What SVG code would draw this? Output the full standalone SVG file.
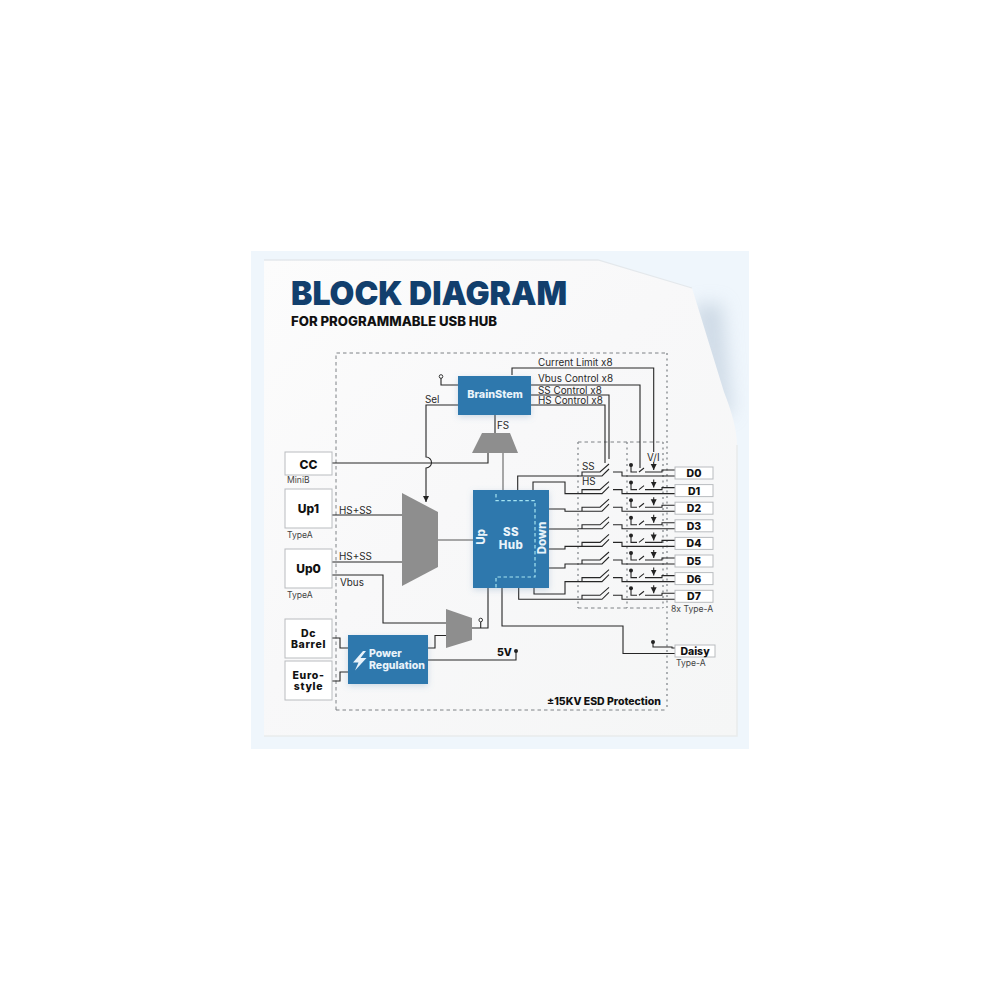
<svg xmlns="http://www.w3.org/2000/svg" width="1000" height="1000" viewBox="0 0 1000 1000">
<style>
text{font-family:Inter,"Liberation Sans",sans-serif;fill:#222}
.box{fill:#fff;stroke:#b9bcbf;stroke-width:1}
.bl{font-weight:800;font-size:12px;text-anchor:middle;fill:#111}
.b2{font-weight:800;font-size:10.500px;letter-spacing:.7px;text-anchor:middle;fill:#111}
.dl{font-weight:800;font-size:10.5px;text-anchor:middle;fill:#111}
.lb{font-size:9.9px;fill:#2a2a2a}
.sm{font-size:8.6px;fill:#444}
.wt{font-weight:800;fill:#e9f3fa;text-anchor:middle;font-size:10.800px}
.blue{fill:#2f78ad;filter:url(#s)}
.mux{fill:#8e8e8e}
.ln{fill:none;stroke:#262626;stroke-width:1.1}
.gl{fill:none;stroke:#8a8a8a;stroke-width:1.5}
.ds{fill:none;stroke:#6f7478;stroke-width:.9;stroke-dasharray:3.5 3}
.dv{fill:none;stroke:#8c9094;stroke-width:1.4;stroke-dasharray:2 3.500}
.hd{fill:none;stroke:#a5e4f2;stroke-width:1.2;stroke-dasharray:3.5 2.5}
.dot{fill:#222}
.open{fill:#fff;stroke:#333;stroke-width:1}
</style>
<defs>
<filter id="s" x="-20%" y="-20%" width="140%" height="150%"><feDropShadow dx="0" dy="2" stdDeviation="3" flood-color="#6a93b5" flood-opacity=".3"/></filter>
<filter id="b" x="-40%" y="-40%" width="180%" height="180%"><feGaussianBlur stdDeviation="9"/></filter>
<linearGradient id="pg" x1="0" y1="0" x2="1" y2="1"><stop offset="0" stop-color="#fcfcfc"/><stop offset=".45" stop-color="#f8f8f9"/><stop offset="1" stop-color="#f5f6f6"/></linearGradient>
<clipPath id="pc"><rect x="251" y="251" width="498" height="498"/></clipPath>
<marker id="a" markerWidth="8" markerHeight="8" refX="6" refY="3" orient="auto" markerUnits="userSpaceOnUse"><path d="M0 0L6 3L0 6Z" fill="#222"/></marker>
<g id="ch">
<path class="ln" d="M582 0V-4H600L609 -12M578 0H602L609 -7M613 -4H622V0H675M631 -11V-4H637M639 -4L644 -8M645 -4H662V-6H675"/>
<circle class="dot" cx="631" cy="-11" r="2"/>
<path class="ln" d="M653.700 -14V-6" marker-end="url(#a)"/>
</g>
</defs>

<rect x="251" y="251" width="498" height="498" fill="#eff6fc"/>
<g clip-path="url(#pc)"><path d="M692 305L722 303L732 415L715 415Z" fill="#b3c3d4" opacity=".55" filter="url(#b)"/></g>
<path d="M264 260H598L692 288Q708 340 724 392Q737 425 737 445V736H264Z" fill="url(#pg)"/>
<path d="M264 260H598L692 288" stroke="#e4e8ec" stroke-width="1.300" fill="none"/>
<path d="M737 445V736H264" stroke="#e9ebec" stroke-width="1.500" fill="none"/>

<text x="291" y="305" font-size="33" font-weight="900" textLength="276" lengthAdjust="spacingAndGlyphs" style="fill:#123f6d">BLOCK DIAGRAM</text>
<text x="291" y="326" font-size="13" font-weight="800" textLength="206" lengthAdjust="spacingAndGlyphs" style="fill:#111">FOR PROGRAMMABLE USB HUB</text>

<g id="boundaries">
<path class="ds" d="M336 710V353H667M578 442H663M578 608H663M336 710H667"/>
<path class="dv" d="M667 353V710M663 442V608M627 442V608M578 442V608"/>
</g>

<g id="connectors">
<path class="ln" d="M458 405H426V457A5.500 5.500 0 0 1 426 468V502" marker-end="url(#a)"/>
<path class="ln" d="M332 463H488V453"/>
<path class="gl" d="M503 453V490M438 540H473"/>
<path class="ln" d="M495 415V433"/>
<path class="ln" d="M441 378V385H458"/>
<path class="ln" d="M332 515H402M332 562H402M332 575H383V623H446"/>
<path class="ln" d="M428 648H435V635.500H446"/>
<path class="ln" d="M472 628H488V588M480.700 622V628"/>
<path class="ln" d="M428 660H516V652"/>
<path class="ln" d="M332 638H340V648H348M332 681H340V672H348"/>
<path class="ln" d="M502 588V626H623V653.500H675M653 642V647H672V648H675"/>
<path class="ln" d="M512 375V368H653.700V452M531 385H640V468M531 395H609V459M531 405H605V463"/>
<path class="ln" d="M517.700 490V476H578M533 490V482H565V493.600H578M549 509H565V511.200H578M549 529H578M549 549H565V546.400H578M549 568H565V564H578M534 588V594H565V581.600H578M518.700 588V599.300H578"/>
<use href="#ch" transform="translate(0,476)"/>
<use href="#ch" transform="translate(0,493.600)"/>
<use href="#ch" transform="translate(0,511.200)"/>
<use href="#ch" transform="translate(0,528.800)"/>
<use href="#ch" transform="translate(0,546.400)"/>
<use href="#ch" transform="translate(0,564)"/>
<use href="#ch" transform="translate(0,581.600)"/>
<use href="#ch" transform="translate(0,599.300)"/>
<circle class="open" cx="441" cy="376.500" r="1.800"/>
<circle class="open" cx="480.700" cy="620" r="1.800"/>
<circle class="dot" cx="516" cy="651" r="2"/>
<circle class="dot" cx="653" cy="642" r="2"/>
</g>

<g id="cc"><rect class="box" x="285" y="452" width="47" height="23"/><text class="bl" x="308.500" y="469">CC</text><text class="sm" x="287" y="483">MiniB</text></g>
<g id="up1"><rect class="box" x="285" y="489" width="47" height="39"/><text class="bl" x="308.500" y="513">Up1</text><text class="sm" x="287" y="538">TypeA</text></g>
<g id="up0"><rect class="box" x="285" y="549" width="47" height="39"/><text class="bl" x="308.500" y="573">Up0</text><text class="sm" x="287" y="598">TypeA</text></g>
<g id="dc-barrel"><rect class="box" x="285" y="619" width="47" height="39"/><text class="b2" y="636.500"><tspan x="308.500">Dc</tspan><tspan x="308.500" dy="11.500">Barrel</tspan></text></g>
<g id="eurostyle"><rect class="box" x="285" y="661" width="47" height="39"/><text class="b2" y="678.500"><tspan x="308.500">Euro-</tspan><tspan x="308.500" dy="11.500">style</tspan></text></g>

<g id="brainstem"><rect class="blue" x="458" y="376" width="73" height="39"/><text class="wt" x="495" y="398">BrainStem</text></g>
<g id="fs-mux"><path class="mux" d="M482 433H510L518 453H472Z"/></g>
<g id="hs-ss-mux"><path class="mux" d="M402 493L438 512V567L402 586Z"/></g>
<g id="vbus-mux"><path class="mux" d="M446 609L472 618V640L446 648Z"/></g>
<g id="ss-hub"><rect class="blue" x="473" y="490" width="76" height="98"/>
<path class="hd" d="M496 494V500.700H535V577H496V588"/>
<text class="wt" y="536" style="font-size:11.500px;letter-spacing:.4px"><tspan x="511">SS</tspan><tspan x="511" dy="13">Hub</tspan></text>
<text class="wt" transform="translate(485,537) rotate(-90)" style="font-size:11.500px">Up</text>
<text class="wt" transform="translate(546,538) rotate(-90)" style="font-size:11.500px">Down</text></g>
<g id="power-regulation"><rect class="blue" x="348" y="635" width="80" height="49"/>
<path d="M363 651L353 662.500H358.500L355 670.500L366.500 658H360.500L366 651Z" fill="#e9f3fa"/>
<text class="wt" y="657" style="text-anchor:start;font-size:10.500px"><tspan x="369">Power</tspan><tspan x="369" dy="12">Regulation</tspan></text></g>

<g id="d0"><rect class="box" x="675" y="467" width="38" height="12"/><text class="dl" x="694" y="477">D0</text></g>
<g id="d1"><rect class="box" x="675" y="484.600" width="38" height="12"/><text class="dl" x="694" y="494.600">D1</text></g>
<g id="d2"><rect class="box" x="675" y="502.200" width="38" height="12"/><text class="dl" x="694" y="512.200">D2</text></g>
<g id="d3"><rect class="box" x="675" y="519.800" width="38" height="12"/><text class="dl" x="694" y="529.800">D3</text></g>
<g id="d4"><rect class="box" x="675" y="537.400" width="38" height="12"/><text class="dl" x="694" y="547.400">D4</text></g>
<g id="d5"><rect class="box" x="675" y="555" width="38" height="12"/><text class="dl" x="694" y="565">D5</text></g>
<g id="d6"><rect class="box" x="675" y="572.600" width="38" height="12"/><text class="dl" x="694" y="582.600">D6</text></g>
<g id="d7"><rect class="box" x="675" y="590.300" width="38" height="12"/><text class="dl" x="694" y="600.300">D7</text></g>
<g id="daisy"><rect class="box" x="675" y="645" width="40" height="12"/><text class="dl" x="695" y="655">Daisy</text></g>

<g id="labels">
<text class="lb" x="538" y="366">Current Limit x8</text>
<text class="lb" x="538" y="382">Vbus Control x8</text>
<text class="lb" x="538" y="394">SS Control x8</text>
<text class="lb" x="538" y="404">HS Control x8</text>
<text class="lb" x="425" y="403">Sel</text>
<text class="lb" x="497" y="429">FS</text>
<text class="lb" x="582" y="470">SS</text>
<text class="lb" x="582" y="485">HS</text>
<text class="lb" x="647" y="461">V/I</text>
<text class="lb" x="339" y="514">HS+SS</text>
<text class="lb" x="339" y="560">HS+SS</text>
<text class="lb" x="340" y="586">Vbus</text>
<text class="sm" x="671" y="612">8x Type-A</text>
<text class="sm" x="676" y="666">Type-A</text>
<text x="497" y="656" font-size="10.500" font-weight="800" style="fill:#111">5V</text>
<text x="547" y="705" font-size="10" font-weight="800" textLength="114" lengthAdjust="spacingAndGlyphs" style="fill:#111">±15KV ESD Protection</text>
</g>
</svg>
